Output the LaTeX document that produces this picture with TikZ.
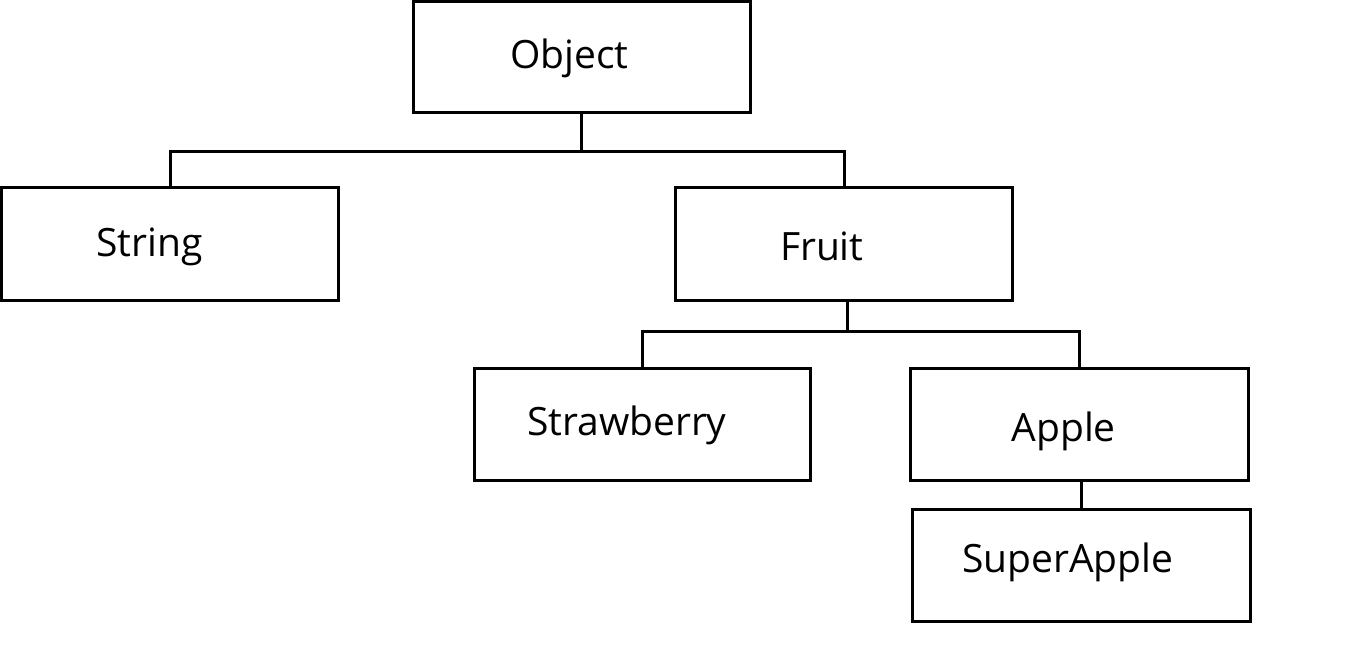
\documentclass[tikz,border=0pt]{standalone}
\usepackage{fontspec}
\setmainfont{Open Sans}
\begin{document}
\begin{tikzpicture}[x=1pt,y=-1pt,
  box/.style={draw=black,line width=3pt,rectangle,inner sep=0pt,outer sep=0pt},
  lbl/.style={anchor=base west,inner sep=0pt,outer sep=0pt,font=\fontsize{39}{46}\selectfont},
  conn/.style={draw=black,line width=3pt}]
\fill[white] (0,0) rectangle (1349,647);
\useasboundingbox (0,0) rectangle (1349,647);
% boxes
\node[box,minimum width=336.5pt,minimum height=111pt] (obj) at (581.75,57) {};
\node[box,minimum width=337pt,minimum height=112pt] (str) at (170,244) {};
\node[box,minimum width=337pt,minimum height=112pt] (fru) at (844,244) {};
\node[box,minimum width=336pt,minimum height=112pt] (stw) at (642,424) {};
\node[box,minimum width=337.5pt,minimum height=112.5pt] (app) at (1079.25,424.25) {};
\node[box,minimum width=338pt,minimum height=112pt] (sup) at (1081,565) {};
% labels
\node[lbl] (objT) at (510,68.3) {Object};
\node[lbl] (strT) at (96.5,256.7) {String};
\node[lbl] (fruT) at (780,260.7) {Fruit};
\node[lbl] (stwT) at (527,435) {Strawberry};
\node[lbl] (appT) at (1011.5,441) {Apple};
\node[lbl] (supT) at (962,572.3) {SuperApple};
% junctions
\coordinate (j1) at (0,151.5);
\coordinate (j2) at (0,331.5);
\coordinate (fruOut) at ([xshift=3pt]fru.south);
% connectors
\draw[conn] (obj.south) -- (obj.south |- j1);
\draw[conn] (str.north) -- (str.north |- j1) -| (fru.north);
\draw[conn] (fruOut) -- (fruOut |- j2);
\draw[conn] (stw.north) -- (stw.north |- j2) -| (app.north);
\draw[conn] (sup.north) -- (sup.north |- app.south);
\end{tikzpicture}
\end{document}
